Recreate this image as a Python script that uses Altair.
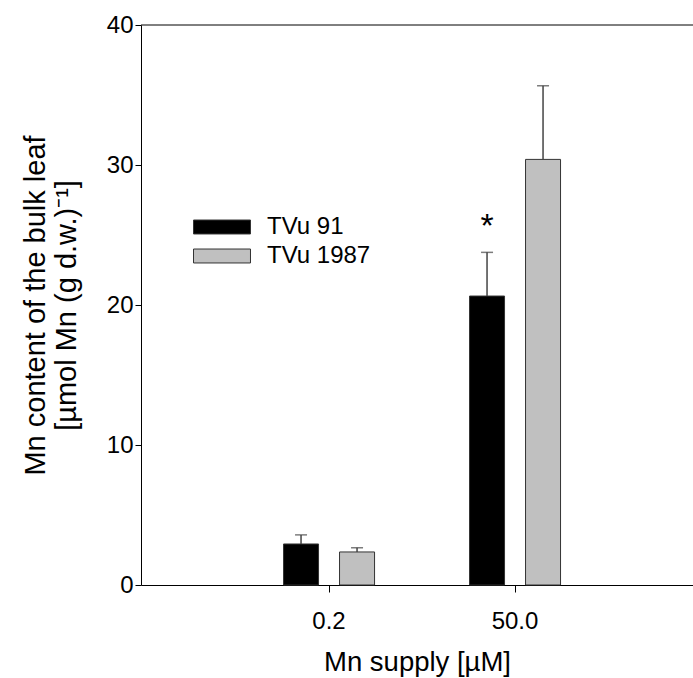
import altair as alt
import pandas as pd

supply = ["0.2", "0.2", "50.0", "50.0"]
cultivar = ["TVu 91", "TVu 1987", "TVu 91", "TVu 1987"]
mn_mean = [2.93, 2.36, 20.64, 30.4]
mn_err = [0.65, 0.30, 3.12, 5.26]
star_supply = ["50.0"]
star_cultivar = ["TVu 91"]
star_y = [25.6]
star_text = ["*"]

df = pd.DataFrame({"supply": supply, "cultivar": cultivar, "mean": mn_mean, "err": mn_err})
df["top"] = df["mean"] + df["err"]
stars = pd.DataFrame({"supply": star_supply, "cultivar": star_cultivar, "y": star_y, "t": star_text})

FONT = "Liberation Sans"
order = ["TVu 91", "TVu 1987"]

xscale = alt.Scale(domain=["0.2", "50.0"], paddingInner=0, paddingOuter=0.4839, align=0.528)
xenc = alt.X("supply:N", title="Mn supply [µM]", scale=xscale,
             axis=alt.Axis(labelAngle=0, labelPadding=17, titlePadding=15, tickSize=7,
                           labelFontSize=24, titleFontSize=27.5))
xoff = alt.XOffset("cultivar:N", scale=alt.Scale(domain=order, paddingInner=0.375, paddingOuter=0.848))
yscale = alt.Scale(domain=[0, 40], nice=False)

bars = alt.Chart(df).mark_bar(stroke="#333333", strokeWidth=1).encode(
    x=xenc,
    xOffset=xoff,
    y=alt.Y("mean:Q", scale=yscale,
            title=["Mn content of the bulk leaf", "[µmol Mn (g d.w.)⁻¹]"],
            axis=alt.Axis(values=[0, 10, 20, 30, 40], tickSize=6, grid=False,
                          labelPadding=2, titlePadding=25, labelFontSize=24,
                          titleFontSize=29, titleLineHeight=31)),
    color=alt.Color("cultivar:N", scale=alt.Scale(domain=order, range=["#000000", "#c0c0c0"]),
                    legend=alt.Legend(title=None, orient="none", legendX=66, legendY=187,
                                      symbolType="M-2,-0.49L2,-0.49L2,0.49L-2,0.49Z",
                                      symbolSize=812, symbolStrokeColor="#333333",
                                      symbolStrokeWidth=1, labelOffset=30, rowPadding=2,
                                      labelFontSize=24, padding=0)),
)

err = alt.Chart(df).mark_rule(color="#444444", strokeWidth=1.5).encode(
    x=alt.X("supply:N", scale=xscale), xOffset=xoff, y=alt.Y("mean:Q", scale=yscale), y2="top:Q")

caps = alt.Chart(df).mark_tick(color="#444444", thickness=1.5, size=12, orient="horizontal").encode(
    x=alt.X("supply:N", scale=xscale), xOffset=xoff, y=alt.Y("top:Q", scale=yscale))

star = alt.Chart(stars).mark_text(fontSize=34, font=FONT, color="black", baseline="middle").encode(
    x=alt.X("supply:N", scale=xscale), xOffset=xoff, y=alt.Y("y:Q", scale=yscale), text="t:N")

topline = alt.Chart(pd.DataFrame({"a": [0]})).mark_rule(color="black", strokeWidth=1).encode(
    x=alt.value(0), x2=alt.value(552), y=alt.value(0))

chart = alt.layer(bars, err, caps, star, topline).properties(
    width=552, height=560,
    background="white",
    autosize=alt.AutoSizeParams(type="none"),
    padding={"left": 141, "top": 25, "right": 0, "bottom": 93},
).configure_view(stroke=None).configure_axis(
    labelFont=FONT, titleFont=FONT, labelFontSize=24, titleFontSize=27.5,
    labelColor="black", titleColor="black", domainColor="black", tickColor="black",
    titleFontWeight="normal", grid=False,
).configure_legend(labelFont=FONT, labelFontSize=24, labelColor="black")

chart.save("out.html", embed_options={"renderer": "svg", "actions": False})
